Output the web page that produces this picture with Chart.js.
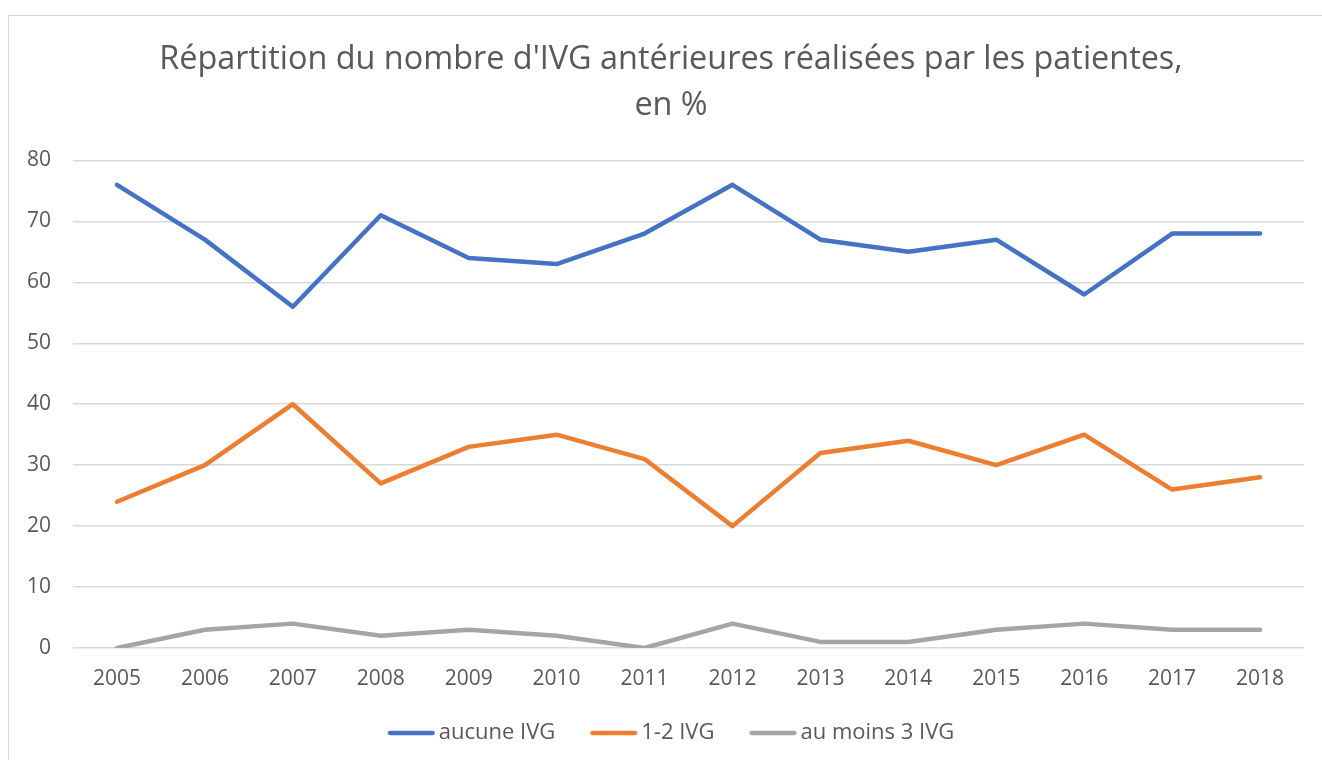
<!DOCTYPE html>
<html>
<head>
<meta charset="utf-8">
<script src="https://cdn.jsdelivr.net/npm/chart.js@4"></script>
<style>
  html, body { margin: 0; padding: 0; background: #fff; overflow: hidden; width: 1322px; height: 760px; }
  #frame { position: absolute; left: 8px; top: 15px; width: 1400px; height: 800px; border: 1px solid #d9d9d9; box-sizing: border-box; }
  #chart { position: absolute; left: 8px; top: 0; }
</style>
</head>
<body>
<div id="frame"></div>
<canvas id="chart" width="1326" height="760"></canvas>
<script>
const years = ['2005', '2006', '2007', '2008', '2009', '2010', '2011', '2012', '2013', '2014', '2015', '2016', '2017', '2018'];
const aucune = [76, 67, 56, 71, 64, 63, 68, 76, 67, 65, 67, 58, 68, 68];
const unDeux = [24, 30, 40, 27, 33, 35, 31, 20, 32, 34, 30, 35, 26, 28];
const auMoins3 = [0, 3, 4, 2, 3, 2, 0, 4, 1, 1, 3, 4, 3, 3];

const textColor = '#595959';
const fontFam = "'Open Sans', sans-serif";

// petite image pour l'échantillon de légende (ligne épaisse, bouts arrondis, collée au texte)
function legendLine(color) {
  const c = document.createElement('canvas');
  c.width = 64;
  c.height = 10;
  const g = c.getContext('2d');
  g.strokeStyle = color;
  g.lineWidth = 4.5;
  g.lineCap = 'round';
  g.beginPath();
  g.moveTo(14.25, 5);
  g.lineTo(56.75, 5);
  g.stroke();
  return c;
}

function serie(label, data, color) {
  return {
    label: label,
    data: data,
    borderColor: color,
    backgroundColor: color,
    borderWidth: 4.5,
    borderCapStyle: 'round',
    borderJoinStyle: 'round',
    pointRadius: 0,
    pointHoverRadius: 0,
    pointStyle: legendLine(color),
    tension: 0,
    fill: false
  };
}

const ctx = document.getElementById('chart').getContext('2d');
new Chart(ctx, {
  type: 'line',
  data: {
    labels: years,
    datasets: [
      serie('aucune IVG', aucune, '#4472C4'),
      serie('1-2 IVG', unDeux, '#ED7D31'),
      serie('au moins 3 IVG', auMoins3, '#A5A5A5')
    ]
  },
  options: {
    responsive: false,
    animation: false,
    layout: { padding: { left: 0, right: 0, top: 0, bottom: 6 } },
    plugins: {
      title: {
        display: true,
        text: ["Répartition du nombre d'IVG antérieures réalisées par les patientes,", 'en %'],
        color: textColor,
        font: { family: fontFam, size: 32.4, weight: 'normal', lineHeight: 1.4 },
        padding: { top: 37.3, bottom: 32.4 }
      },
      legend: {
        display: true,
        position: 'bottom',
        maxHeight: 74,
        labels: {
          usePointStyle: true,
          pointStyleWidth: 40,
          color: textColor,
          padding: 35,
          font: { family: fontFam, size: 22 }
        }
      },
      tooltip: { enabled: false }
    },
    scales: {
      x: {
        offset: true,
        grid: { display: false, drawTicks: false },
        border: { display: false },
        ticks: { color: textColor, padding: 18, font: { family: fontFam, size: 21 }, maxRotation: 0 },
        afterFit: function(scale) { scale.height = 39; }
      },
      y: {
        min: 0,
        max: 80,
        ticks: { stepSize: 10, color: textColor, padding: 22, font: { family: fontFam, size: 21 } },
        grid: { color: '#d9d9d9', lineWidth: 1.5, drawTicks: false },
        border: { display: false },
        afterFit: function(scale) { scale.width = 65; }
      },
      // axe vide à droite : garde la marge droite sans décaler le titre
      yDroite: {
        position: 'right',
        min: 0,
        max: 80,
        ticks: { display: false },
        grid: { display: false, drawTicks: false },
        border: { display: false },
        afterFit: function(scale) { scale.width = 30; }
      }
    }
  }
});
</script>
</body>
</html>
